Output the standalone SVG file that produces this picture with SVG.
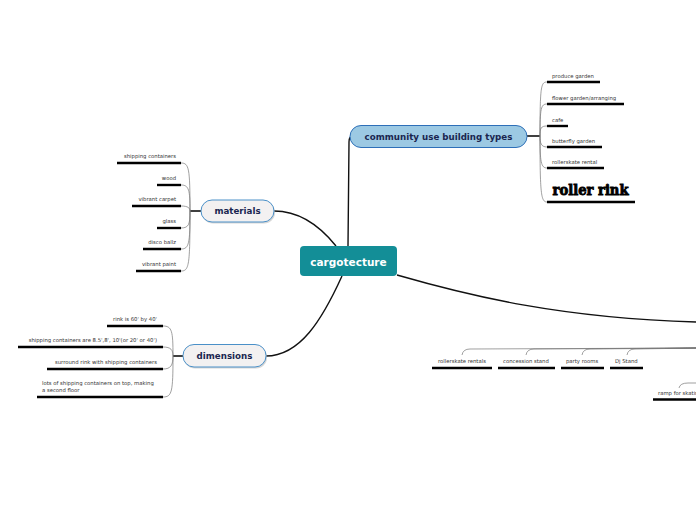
<svg xmlns="http://www.w3.org/2000/svg" width="696" height="520" viewBox="0 0 696 520">
<style>
.main{stroke:#111;stroke-width:1.4;fill:none}
.stub{stroke:#111;stroke-width:1.6;fill:none}
.br{stroke:#777;stroke-width:0.7;fill:none}
.ul{stroke:#000;stroke-width:2.4;fill:none}
.t{font-family:"DejaVu Sans","Liberation Sans",sans-serif;font-size:5.3px;fill:#333}
.nl{font-family:"DejaVu Sans","Liberation Sans",sans-serif;font-weight:bold;fill:#1a2650}
.pill{fill:#f3f1f1;stroke:#4a90c8;stroke-width:1}
.shadow{fill:#bbb;opacity:0.6}
</style>
<g id="connectors">
<path class="main" d="M348,246 L349,142 Q349,136 353,136"/>
<path class="main" d="M336,246 C320,226 300,211 274,211"/>
<path class="main" d="M342,276 C322,320 300,356 266,356"/>
<path class="main" d="M397,275 C470,296 560,318 696,322"/>
<path class="stub" d="M527,136 L540,136"/>
<path class="stub" d="M201,211 L190,211"/>
<path class="stub" d="M183,356 L173,356"/>
<path class="br" d="M540,136 C540,86 541,82 547,82"/>
<path class="br" d="M540,136 C540,108 541,104 547,104"/>
<path class="br" d="M540,136 C540,128 541,126 547,126"/>
<path class="br" d="M540,136 C540,143 541,147 547,147"/>
<path class="br" d="M540,136 C540,162 541,168 547,168"/>
<path class="br" d="M540,136 C540,194 541,202 547,202"/>
<path class="br" d="M190,211 C190,168 189,163 181,163"/>
<path class="br" d="M190,211 C190,190 189,185 181,185"/>
<path class="br" d="M190,211 C190,208 188,206 181,206"/>
<path class="br" d="M190,211 C190,224 189,228 181,228"/>
<path class="br" d="M190,211 C190,244 189,249 181,249"/>
<path class="br" d="M190,211 C190,266 189,271 181,271"/>
<path class="br" d="M173,356 C173,331 172,326 163,326"/>
<path class="br" d="M173,356 C173,350 171,347 163,347"/>
<path class="br" d="M173,356 C173,365 171,369 163,369"/>
<path class="br" d="M173,356 C173,392 172,397 163,397"/>
<path class="br" d="M696,348 L470,349 Q463,349 462,355"/>
<path class="br" d="M696,348 L534,349 Q527,349 526,355"/>
<path class="br" d="M696,348 L590,349 Q583,349 582,355"/>
<path class="br" d="M696,348 L635,349 Q628,349 627,355"/>
<path class="br" d="M696,348 L665,348.5"/>
<path class="br" d="M696,348 L680,348.5"/>
<path class="br" d="M696,383 L688,383 Q680,383 679,388"/>
</g>
<g id="cargotecture">
<rect x="300" y="246" width="97" height="30" rx="4" fill="#138e97"/>
<text x="348.5" y="265.5" text-anchor="middle" font-family="DejaVu Sans, Liberation Sans, sans-serif" font-weight="bold" font-size="10.5" fill="#fff">cargotecture</text>
</g>
<g id="community">
<rect x="350" y="125.5" width="177" height="22" rx="11" fill="#9cc9e3" stroke="#2d6fb8" stroke-width="1"/>
<text class="nl" x="438.5" y="139.5" text-anchor="middle" font-size="8.7">community use building types</text>
</g>
<g id="materials">
<rect class="shadow" x="202" y="201.5" width="73" height="22" rx="11"/>
<rect class="pill" x="201" y="200" width="73" height="22" rx="11"/>
<text class="nl" x="237.5" y="214.2" text-anchor="middle" font-size="8.7">materials</text>
</g>
<g id="dimensions">
<rect class="shadow" x="184" y="346" width="83" height="22.5" rx="11"/>
<rect class="pill" x="183" y="344.5" width="83" height="22.5" rx="11"/>
<text class="nl" x="224.5" y="359" text-anchor="middle" font-size="8.7">dimensions</text>
</g>
<g id="produce-garden"><text class="t" x="552" y="78">produce garden</text><path class="ul" d="M547,82 H600"/></g>
<g id="flower-garden"><text class="t" x="552" y="100">flower garden/arranging</text><path class="ul" d="M547,104 H624"/></g>
<g id="cafe"><text class="t" x="552" y="122">cafe</text><path class="ul" d="M547,126 H568"/></g>
<g id="butterfly-garden"><text class="t" x="552" y="143">butterfly garden</text><path class="ul" d="M547,147 H602"/></g>
<g id="rollerskate-rental"><text class="t" x="552" y="164">rollerskate rental</text><path class="ul" d="M547,168 H604"/></g>
<g id="roller-rink"><text x="552.5" y="194.5" font-family="DejaVu Serif, Liberation Serif, serif" font-weight="900" font-size="14.5" fill="#000" stroke="#000" stroke-width="0.9" textLength="76" lengthAdjust="spacingAndGlyphs">roller rink</text><path class="ul" d="M547,202 H635"/></g>
<g id="shipping-containers"><text class="t" x="176" y="158" text-anchor="end">shipping containers</text><path class="ul" d="M117,163 H181"/></g>
<g id="wood"><text class="t" x="176" y="180" text-anchor="end">wood</text><path class="ul" d="M157,185 H181"/></g>
<g id="vibrant-carpet"><text class="t" x="176" y="201" text-anchor="end">vibrant carpet</text><path class="ul" d="M132,206 H181"/></g>
<g id="glass"><text class="t" x="176" y="223" text-anchor="end">glass</text><path class="ul" d="M157,228 H181"/></g>
<g id="disco-ballz"><text class="t" x="176" y="244" text-anchor="end">disco ballz</text><path class="ul" d="M143,249 H181"/></g>
<g id="vibrant-paint"><text class="t" x="176" y="266" text-anchor="end">vibrant paint</text><path class="ul" d="M136,271 H181"/></g>
<g id="rink-size"><text class="t" x="157" y="321" text-anchor="end">rink is 60' by 40'</text><path class="ul" d="M107,326 H163"/></g>
<g id="container-sizes"><text class="t" x="157" y="342" text-anchor="end">shipping containers are 8.5',8', 10'(or 20' or 40')</text><path class="ul" d="M18,347 H163"/></g>
<g id="surround-rink"><text class="t" x="157" y="364" text-anchor="end">surround rink with shipping containers</text><path class="ul" d="M47,369 H163"/></g>
<g id="second-floor"><text class="t" x="42" y="385">lots of shipping containers on top, making</text><text class="t" x="42" y="392">a second floor</text><path class="ul" d="M37,397 H163"/></g>
<g id="rollerskate-rentals"><text class="t" x="438" y="363">rollerskate rentals</text><path class="ul" d="M432,368 H492"/></g>
<g id="concession-stand"><text class="t" x="503" y="363">concession stand</text><path class="ul" d="M498,368 H555"/></g>
<g id="party-rooms"><text class="t" x="566" y="363">party rooms</text><path class="ul" d="M561,368 H604"/></g>
<g id="dj-stand"><text class="t" x="615" y="363">Dj Stand</text><path class="ul" d="M610,368 H643"/></g>
<g id="ramp"><text class="t" x="658" y="395">ramp for skating</text><path class="ul" d="M653,399.5 H700"/></g>
</svg>
